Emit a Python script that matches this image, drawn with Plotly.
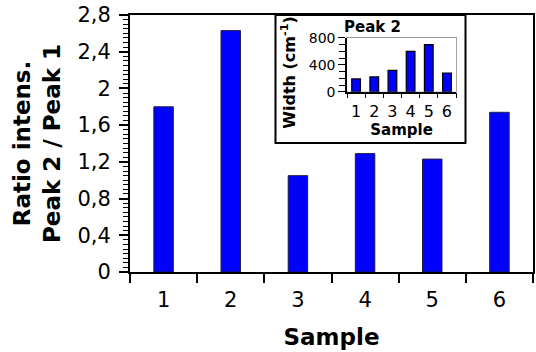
import plotly.graph_objects as go

# Sample labels and measured values
samples = ["1", "2", "3", "4", "5", "6"]
ratio_peak2_peak1 = [1.80, 2.63, 1.05, 1.29, 1.23, 1.74]
peak2_width = [190, 220, 318, 600, 700, 278]

FONT = "DejaVu Sans"
BLUE = "#0000ff"

fig = go.Figure()

# Main chart: intensity ratio per sample
fig.add_trace(go.Bar(
    x=samples, y=ratio_peak2_peak1,
    marker=dict(color=BLUE, line=dict(color="#202040", width=1)),
    width=0.29, xaxis="x", yaxis="y", showlegend=False,
))

# Inset chart: Peak 2 width per sample
fig.add_trace(go.Bar(
    x=samples, y=peak2_width,
    marker=dict(color=BLUE, line=dict(color="black", width=1.2)),
    width=0.48, xaxis="x2", yaxis="y2", showlegend=False,
))


def axis_style(lw):
    return dict(showline=True, linecolor="black", linewidth=lw,
                ticks="outside", tickcolor="black", showgrid=False,
                zeroline=False, automargin=False)


fig.update_layout(
    width=536, height=352,
    margin=dict(l=130, r=3, t=15, b=80),
    paper_bgcolor="white", plot_bgcolor="white",
    separators=", ",
    font=dict(family=FONT, color="black"),
    xaxis=dict(
        **axis_style(2), type="category", range=[-0.5, 5.5],
        tickson="boundaries", ticklen=9, tickwidth=1.5, mirror=True,
        tickangle=0, tickfont=dict(size=21, family=FONT), ticklabelstandoff=8,
        title=dict(text="<b>Sample</b>", font=dict(size=23, family=FONT), standoff=18),
    ),
    yaxis=dict(
        **axis_style(2), range=[0, 2.8], dtick=0.4, tick0=0, ticklen=9,
        tickwidth=1.5, mirror=True, ticklabelstandoff=4,
        tickfont=dict(size=21, family=FONT),
        minor=dict(dtick=0.05, ticklen=5, ticks="outside", tickcolor="black", tickwidth=1),
        title=dict(text="<b>Ratio intens.<br>Peak 2 / Peak 1</b>",
                   font=dict(size=23, family=FONT), standoff=10),
    ),
    xaxis2=dict(
        **axis_style(1.5), type="category", range=[-0.5, 5.5], anchor="y2",
        domain=[0.5385, 0.809], tickson="boundaries", ticklen=5, tickwidth=1.2,
        tickmode="linear", tick0=0, dtick=1,
        tickangle=0, tickfont=dict(size=16, family=FONT), ticklabelstandoff=4,
        title=dict(text="<b>Sample</b>", font=dict(size=15, family=FONT), standoff=1),
    ),
    yaxis2=dict(
        **axis_style(1.5), range=[0, 800], dtick=400, tick0=0, anchor="x2",
        domain=[0.7014, 0.911], ticklen=7, tickwidth=1.2,
        tickfont=dict(size=14, family=FONT),
        minor=dict(dtick=100, ticklen=6, ticks="outside", tickcolor="black", tickwidth=1),
    ),
    shapes=[
        # inset frame
        dict(type="rect", xref="paper", yref="paper", x0=0.361, x1=0.8325,
             y0=0.502, y1=1.0, line=dict(color="black", width=2),
             fillcolor="white", layer="below"),
        # grey plot border of the inset
        dict(type="rect", xref="x2 domain", yref="y2 domain", x0=0, x1=1,
             y0=0, y1=1, line=dict(color="#888888", width=1.5), layer="below"),
    ],
    annotations=[
        dict(text="<b>Peak 2</b>", xref="x2 domain", yref="y2 domain",
             x=-0.05, y=1.0, xanchor="left", yanchor="bottom", showarrow=False,
             font=dict(size=15, family=FONT)),
        # inset y-axis title
        dict(text="<b>Width (cm<sup>-1</sup>)</b>", xref="paper", yref="paper",
             x=(289 - 130) / 403, y=(271.7 - 73) / 256.2, textangle=-90,
             xanchor="center", yanchor="middle", showarrow=False,
             font=dict(size=16, family=FONT)),
    ],
)

fig.write_html("out.html")
